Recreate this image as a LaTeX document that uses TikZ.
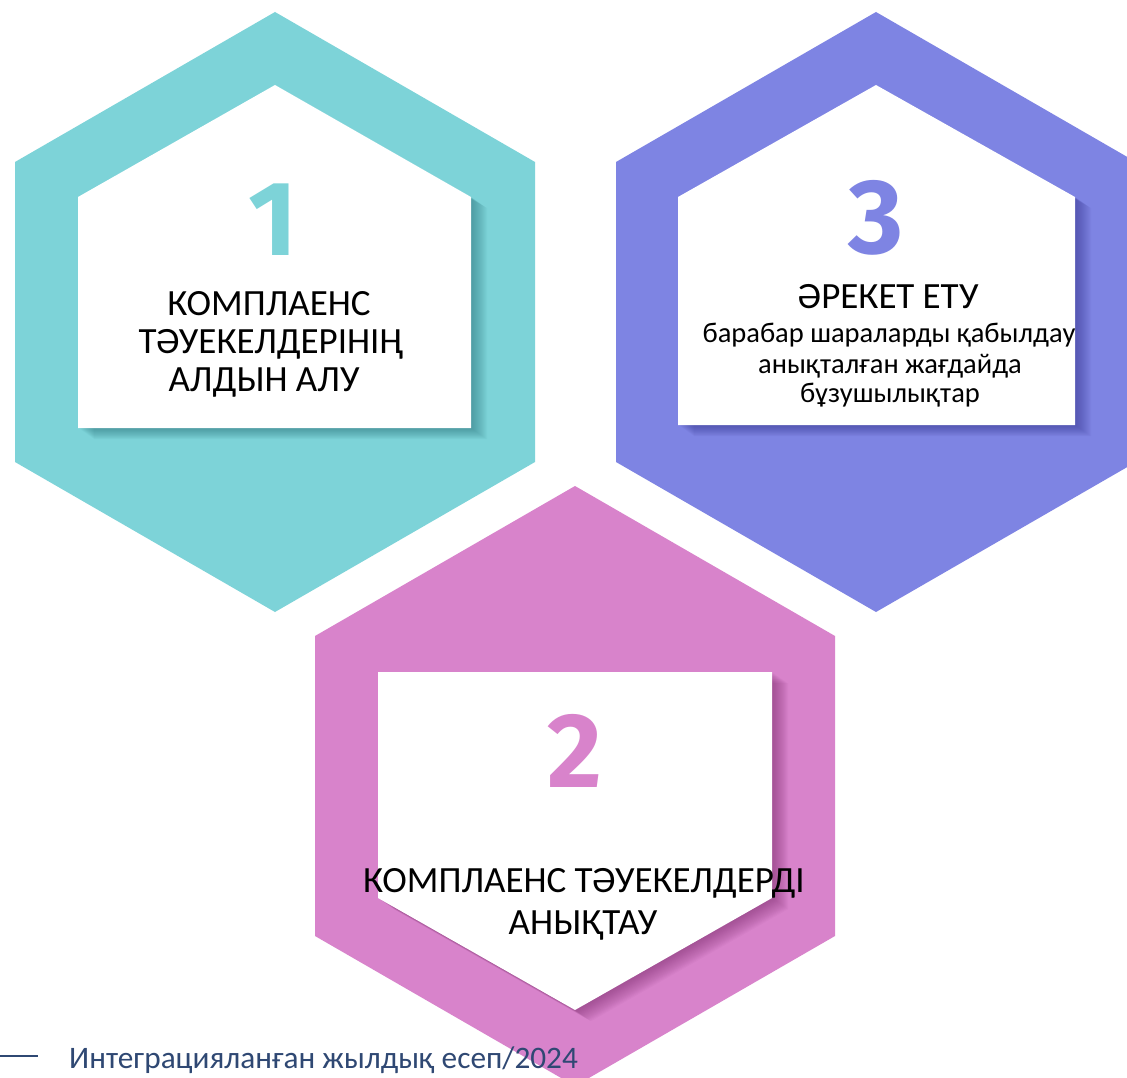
\documentclass[tikz,border=0pt]{standalone}
\usepackage{fontspec}
\setmainfont{Carlito}
\newfontfamily\digitfont{Fira Sans}
\definecolor{tealA}{RGB}{125,211,216}
\definecolor{tealD}{RGB}{40,110,120}
\definecolor{purpA}{RGB}{126,132,227}
\definecolor{purpD}{RGB}{50,50,140}
\definecolor{pinkA}{RGB}{216,131,203}
\definecolor{pinkD}{RGB}{120,40,105}
\definecolor{navy}{RGB}{47,72,115}
\begin{document}
\begin{tikzpicture}[x=1pt,y=-1pt,
  lbl/.style={inner sep=0pt, anchor=base, text=black},
  bigtxt/.style={lbl, font=\fontsize{37}{37}\selectfont},
  smalltxt/.style={lbl, font=\fontsize{28.5}{28.5}\selectfont},
  digit/.style={inner sep=0pt, font=\digitfont\bfseries\fontsize{106}{106}\selectfont},
  foot/.style={inner sep=0pt, anchor=base west, text=navy, font=\fontsize{31.3}{31.3}\selectfont},
]
\useasboundingbox (0,0) rectangle (1127,1078);
\clip (0,0) rectangle (1127,1078);
\fill[white] (0,0) rectangle (1127,1078);

% hexagon 1 (teal)
\fill[tealA] (275,12) -- (535,162) -- (535,462) -- (275,612) -- (15,462) -- (15,162) -- cycle;
\foreach \d in {1,...,16}
  \fill[tealD,opacity=0.04,shift={(\d,0.7*\d)}] (78,428) -- (78,197) -- (275,85) -- (471,197) -- (471,428) -- cycle;
\fill[white] (78,428) -- (78,197) -- (275,85) -- (471,197) -- (471,428) -- cycle;

% hexagon 3 (purple)
\fill[purpA] (876,12) -- (1136,162) -- (1136,462) -- (876,612) -- (616,462) -- (616,162) -- cycle;
\foreach \d in {1,...,16}
  \fill[purpD,opacity=0.04,shift={(\d,0.7*\d)}] (678,425) -- (678,197) -- (876,85) -- (1075,197) -- (1075,425) -- cycle;
\fill[white] (678,425) -- (678,197) -- (876,85) -- (1075,197) -- (1075,425) -- cycle;

% hexagon 2 (pink)
\fill[pinkA] (575,486) -- (835,636) -- (835,936) -- (575,1086) -- (315,936) -- (315,636) -- cycle;
\foreach \d in {1,...,16}
  \fill[pinkD,opacity=0.04,shift={(\d,0.7*\d)}] (378,672) -- (772,672) -- (772,898) -- (575,1010) -- (378,898) -- cycle;
\fill[white] (378,672) -- (772,672) -- (772,898) -- (575,1010) -- (378,898) -- cycle;

% digits
\node[digit, text=tealA] (d1) at (273,220) {1};
\node[digit, text=purpA] (d3) at (876,218) {3};
\node[digit, text=pinkA] (d2) at (575,751) {2};

% texts hexagon 1
\node[bigtxt] (t1a) at (269,315) {КОМПЛАЕНС};
\node[bigtxt] (t1b) at (271,353) {ТӘУЕКЕЛДЕРІНІҢ};
\node[bigtxt] (t1c) at (264,391) {АЛДЫН АЛУ};

% texts hexagon 3
\node[bigtxt] (t3a) at (888,308) {ӘРЕКЕТ ЕТУ};
\node[smalltxt] (t3b) at (889,342) {барабар шараларды қабылдау};
\node[smalltxt] (t3c) at (890,373) {анықталған жағдайда};
\node[smalltxt] (t3d) at (890,402) {бұзушылықтар};

% texts hexagon 2
\node[bigtxt] (t2a) at (584,892) {КОМПЛАЕНС ТӘУЕКЕЛДЕРДІ};
\node[bigtxt] (t2b) at (583,934) {АНЫҚТАУ};

% footer
\coordinate (fl0) at (0,1056);
\coordinate (fl1) at (38,1056);
\draw[navy, line width=1.5pt] (fl0) -- (fl1);
\node[foot] (ft) at (69,1068) {Интеграцияланған жылдық есеп/2024};
\end{tikzpicture}
\end{document}
